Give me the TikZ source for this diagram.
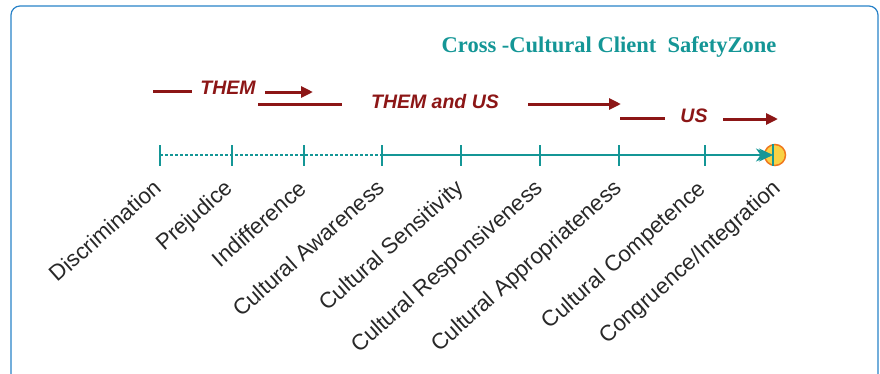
\documentclass[tikz,border=0pt]{standalone}
\usepackage{fontspec}
\setmainfont{Liberation Sans}
\newfontfamily\titlefont{Liberation Serif}
\usetikzlibrary{arrows.meta}
\definecolor{tealc}{RGB}{20,150,150}
\definecolor{darkredc}{RGB}{140,22,22}
\definecolor{framec}{RGB}{40,130,200}
\definecolor{labelc}{RGB}{40,40,40}
\definecolor{sunfill}{RGB}{248,210,70}
\definecolor{sunedge}{RGB}{240,120,30}
\tikzset{
  tickmark/.style={tealc, line width=2.6pt},
  axisline/.style={tealc, line width=1.8pt},
  stagelabel/.style={anchor=base east, rotate=41.5, inner sep=0pt, text=labelc, font=\fontsize{22.3}{22.3}\selectfont},
  redbar/.style={darkredc, line width=3pt},
  redarrow/.style={darkredc, line width=3pt, -{Triangle[length=12pt,width=11pt]}},
  redtext/.style={text=darkredc, font=\fontsize{19.5}{19.5}\selectfont\bfseries\itshape, inner sep=0pt},
}
\begin{document}
\begin{tikzpicture}[x=1pt,y=-1pt]
\useasboundingbox (0,0) rectangle (880,373);
\clip (0,0) rectangle (880,373);
\draw[framec, line width=1.2pt, rounded corners=9pt] (11,6) rectangle (878,385);

% title
\node[text=tealc, font=\titlefont\fontsize{22.5}{22.5}\selectfont\bfseries, inner sep=0pt] (title) at (609,47) {Cross -Cultural Client\ \ SafetyZone};

% tick coordinates
\foreach \n/\x in {d/160, p/232, i/304, a/382, s/461, r/540, ap/619, c/705} {
  \coordinate (\n) at (\x,155);
  \coordinate (\n top) at (\x,145);
  \coordinate (\n bot) at (\x,166);
}
\coordinate (end) at (770,155);

% axis
\draw[axisline, dash pattern=on 3pt off 2pt] (d) -- (a);
\draw[axisline, -{Stealth[length=14pt,width=13pt]}] (a) -- (end);
\foreach \n in {d,p,i,a,s,r,ap,c} {
  \draw[tickmark] (\n top) -- (\n bot);
}

% end circle
\node[circle, fill=sunfill, draw=sunedge, line width=1.5pt, minimum size=21pt, inner sep=0pt] (goal) at (775,155) {};
\draw[tealc, line width=2pt] ([xshift=-2pt]goal.north) -- ([xshift=-2pt]goal.south);
\draw[axisline, -{Stealth[length=14pt,width=13pt]}] (750,155) -- (773,155);

% labels
\node[stagelabel] (ld) at (163,190) {Discrimination};
\node[stagelabel] (lp) at (234,190) {Prejudice};
\node[stagelabel] (li) at (308,191) {Indifference};
\node[stagelabel] (la) at (386,190) {Cultural Awareness};
\node[stagelabel] (ls) at (465,190) {Cultural Sensitivity};
\node[stagelabel] (lr) at (544,190) {Cultural Responsiveness};
\node[stagelabel] (lap) at (623,190) {Cultural Appropriateness};
\node[stagelabel] (lc) at (707,191) {Cultural Competence};
\node[stagelabel] (lg) at (782,190) {Congruence/Integration};

% red arrows
\coordinate (r1a) at (153,91); \coordinate (r1b) at (192,91);
\coordinate (r2a) at (265,92); \coordinate (r2b) at (313,92);
\coordinate (r3a) at (258,104); \coordinate (r3b) at (342,104);
\coordinate (r4a) at (528,104); \coordinate (r4b) at (621,104);
\coordinate (r5a) at (620,118); \coordinate (r5b) at (665,118);
\coordinate (r6a) at (723,119); \coordinate (r6b) at (778,119);
\draw[redbar] (r1a) -- (r1b);
\node[redtext] (them) at (228,88) {THEM};
\draw[redarrow] (r2a) -- (r2b);
\draw[redbar] (r3a) -- (r3b);
\node[redtext] (themus) at (435,102) {THEM and US};
\draw[redarrow] (r4a) -- (r4b);
\draw[redbar] (r5a) -- (r5b);
\node[redtext] (us) at (694,116) {US};
\draw[redarrow] (r6a) -- (r6b);
\end{tikzpicture}
\end{document}
